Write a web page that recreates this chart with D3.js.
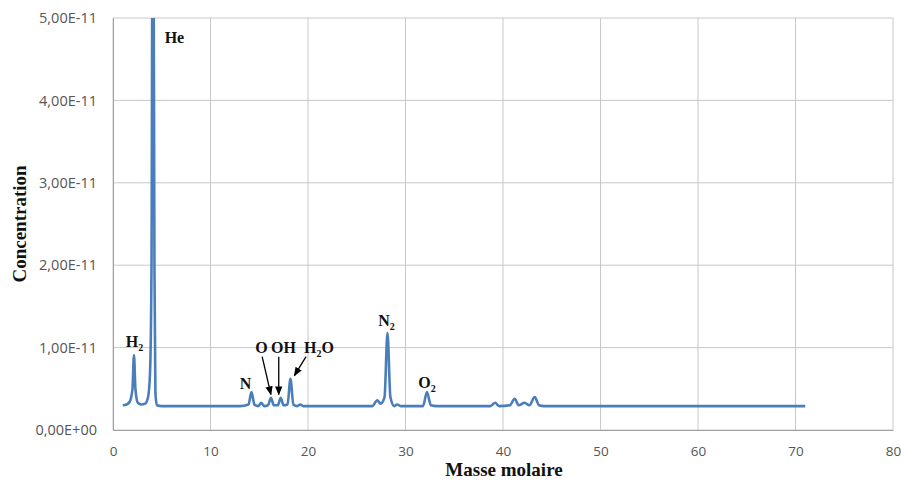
<!DOCTYPE html>
<html><head><meta charset="utf-8">
<script src="https://cdn.jsdelivr.net/npm/d3@7"></script>
<style>
body{margin:0;background:#fff;}
svg{display:block;}
</style></head>
<body>
<svg id="chart" width="901" height="481"></svg>
<script>
// ---- data ----
const mass = [1.0,1.4,1.7,2.0,2.15,2.3,2.55,2.9,3.3,3.6,3.8,3.95,4.05,4.15,4.25,4.35,4.5,5,8,10,13,13.9,14.2,14.5,14.9,15.2,15.5,15.9,16.2,16.5,16.9,17.2,17.5,17.9,18.2,18.5,18.9,19.2,19.5,22,26.6,27.1,27.45,27.85,28.15,28.45,28.85,29.15,29.5,31.8,32.2,32.6,33.2,38.7,39.2,39.6,40.7,41.2,41.6,42.2,42.7,43.25,43.7,44.2,50,60,71];
const conc = [0.30,0.31,0.34,0.50,0.91,0.50,0.33,0.31,0.32,0.40,0.70,2.0,6.0,6.0,2.0,0.45,0.30,0.29,0.29,0.29,0.29,0.31,0.46,0.31,0.29,0.33,0.29,0.30,0.39,0.30,0.30,0.39,0.30,0.31,0.62,0.31,0.29,0.31,0.29,0.29,0.29,0.36,0.32,0.40,1.18,0.40,0.29,0.31,0.29,0.29,0.46,0.30,0.29,0.29,0.33,0.29,0.30,0.38,0.30,0.33,0.30,0.40,0.30,0.29,0.29,0.29,0.29].map(v => v * 1e-11);
const xTicks = [0,10,20,30,40,50,60,70,80];
const yTicks = [0,1e-11,2e-11,3e-11,4e-11,5e-11];
const yTickLabels = ["0,00E+00","1,00E-11","2,00E-11","3,00E-11","4,00E-11","5,00E-11"];
// annotation labels: [main text, subscript, rest, mass, value]
const labels = [
  ["He","","",5.3,4.70e-11],
  ["H","2","",1.3,1.01e-11],
  ["N","","",13.0,0.50e-11],
  ["O","","",14.6,0.94e-11],
  ["OH","","",16.2,0.94e-11],
  ["H","2","O",19.6,0.94e-11],
  ["N","2","",27.2,1.26e-11],
  ["O","2","",31.3,0.51e-11]
];
// arrows: [fromMass, fromValue, toMass, toValue]
const arrows = [
  [15.3,0.89e-11,16.2,0.43e-11],
  [17.0,0.89e-11,17.0,0.43e-11],
  [19.8,0.89e-11,18.6,0.66e-11]
];

// ---- layout ----
const svg = d3.select("#chart");
const m = {left:113, top:18, right:893, bottom:430};
const x = d3.scaleLinear().domain([0,80]).range([m.left,m.right]);
const y = d3.scaleLinear().domain([0,5e-11]).range([m.bottom,m.top]);

svg.append("defs").append("clipPath").attr("id","clip")
  .append("rect").attr("x",m.left).attr("y",m.top).attr("width",m.right-m.left).attr("height",m.bottom-m.top);
const mk = svg.select("defs").append("marker").attr("id","arr")
  .attr("viewBox","0 0 10 10").attr("refX",9).attr("refY",5)
  .attr("markerWidth",7).attr("markerHeight",7).attr("orient","auto-start-reverse");
mk.append("path").attr("d","M0,1 L10,5 L0,9 z").attr("fill","#000");

// grid
const gridColor = "#c8c8c8";
svg.append("g").selectAll("line").data(xTicks).join("line")
  .attr("x1",d=>x(d)).attr("x2",d=>x(d)).attr("y1",m.top).attr("y2",m.bottom)
  .attr("stroke",gridColor).attr("stroke-width",1);
svg.append("g").selectAll("line").data(yTicks).join("line")
  .attr("x1",m.left).attr("x2",m.right).attr("y1",d=>y(d)).attr("y2",d=>y(d))
  .attr("stroke",gridColor).attr("stroke-width",1);

// axes
const xAxis = d3.axisBottom(x).tickValues(xTicks).tickSize(0).tickPadding(16);
const gx = svg.append("g").attr("transform",`translate(0,${m.bottom})`).call(xAxis);
gx.select(".domain").attr("stroke","#a0a0a0");
gx.selectAll("text").attr("font-family","'Open Sans', sans-serif").attr("font-size",13.5).attr("fill","#555");

const yAxis = d3.axisLeft(y).tickValues(yTicks).tickSize(0).tickPadding(16)
  .tickFormat((d,i)=>yTickLabels[i]);
const gy = svg.append("g").attr("transform",`translate(${m.left},0)`).call(yAxis);
gy.select(".domain").attr("stroke","#a0a0a0");
gy.selectAll("text").attr("font-family","'Open Sans', sans-serif").attr("font-size",14.5).attr("fill","#555");

// line
const data = mass.map((d,i)=>({m:d,c:conc[i]}));
svg.append("path").datum(data)
  .attr("clip-path","url(#clip)")
  .attr("fill","none").attr("stroke","#4a7ebb").attr("stroke-width",2.6)
  .attr("stroke-linejoin","round")
  .attr("d", d3.line().x(d=>x(d.m)).y(d=>y(d.c)).curve(d3.curveMonotoneX));

// annotations
const serif = "'Liberation Serif', 'Times New Roman', serif";
labels.forEach(l=>{
  const t = svg.append("text").attr("x",x(l[3])).attr("y",y(l[4]))
    .attr("font-family",serif).attr("font-weight","bold").attr("font-size",16).attr("fill","#111");
  t.append("tspan").text(l[0]);
  if(l[1]) t.append("tspan").attr("font-size",10).attr("dy",4).text(l[1]);
  if(l[2]) t.append("tspan").attr("dy",-4).text(l[2]);
});
svg.append("g").selectAll("line").data(arrows).join("line")
  .attr("x1",d=>x(d[0])).attr("y1",d=>y(d[1])).attr("x2",d=>x(d[2])).attr("y2",d=>y(d[3]))
  .attr("stroke","#000").attr("stroke-width",1.3).attr("marker-end","url(#arr)");

// axis titles
svg.append("text").attr("transform",`translate(26,${(m.top+m.bottom)/2}) rotate(-90)`)
  .attr("text-anchor","middle").attr("font-family",serif).attr("font-weight","bold").attr("font-size",19)
  .attr("fill","#111").text("Concentration");
svg.append("text").attr("x",504).attr("y",476)
  .attr("text-anchor","middle").attr("font-family",serif).attr("font-weight","bold").attr("font-size",19)
  .attr("fill","#111").text("Masse molaire");
</script>
</body></html>
